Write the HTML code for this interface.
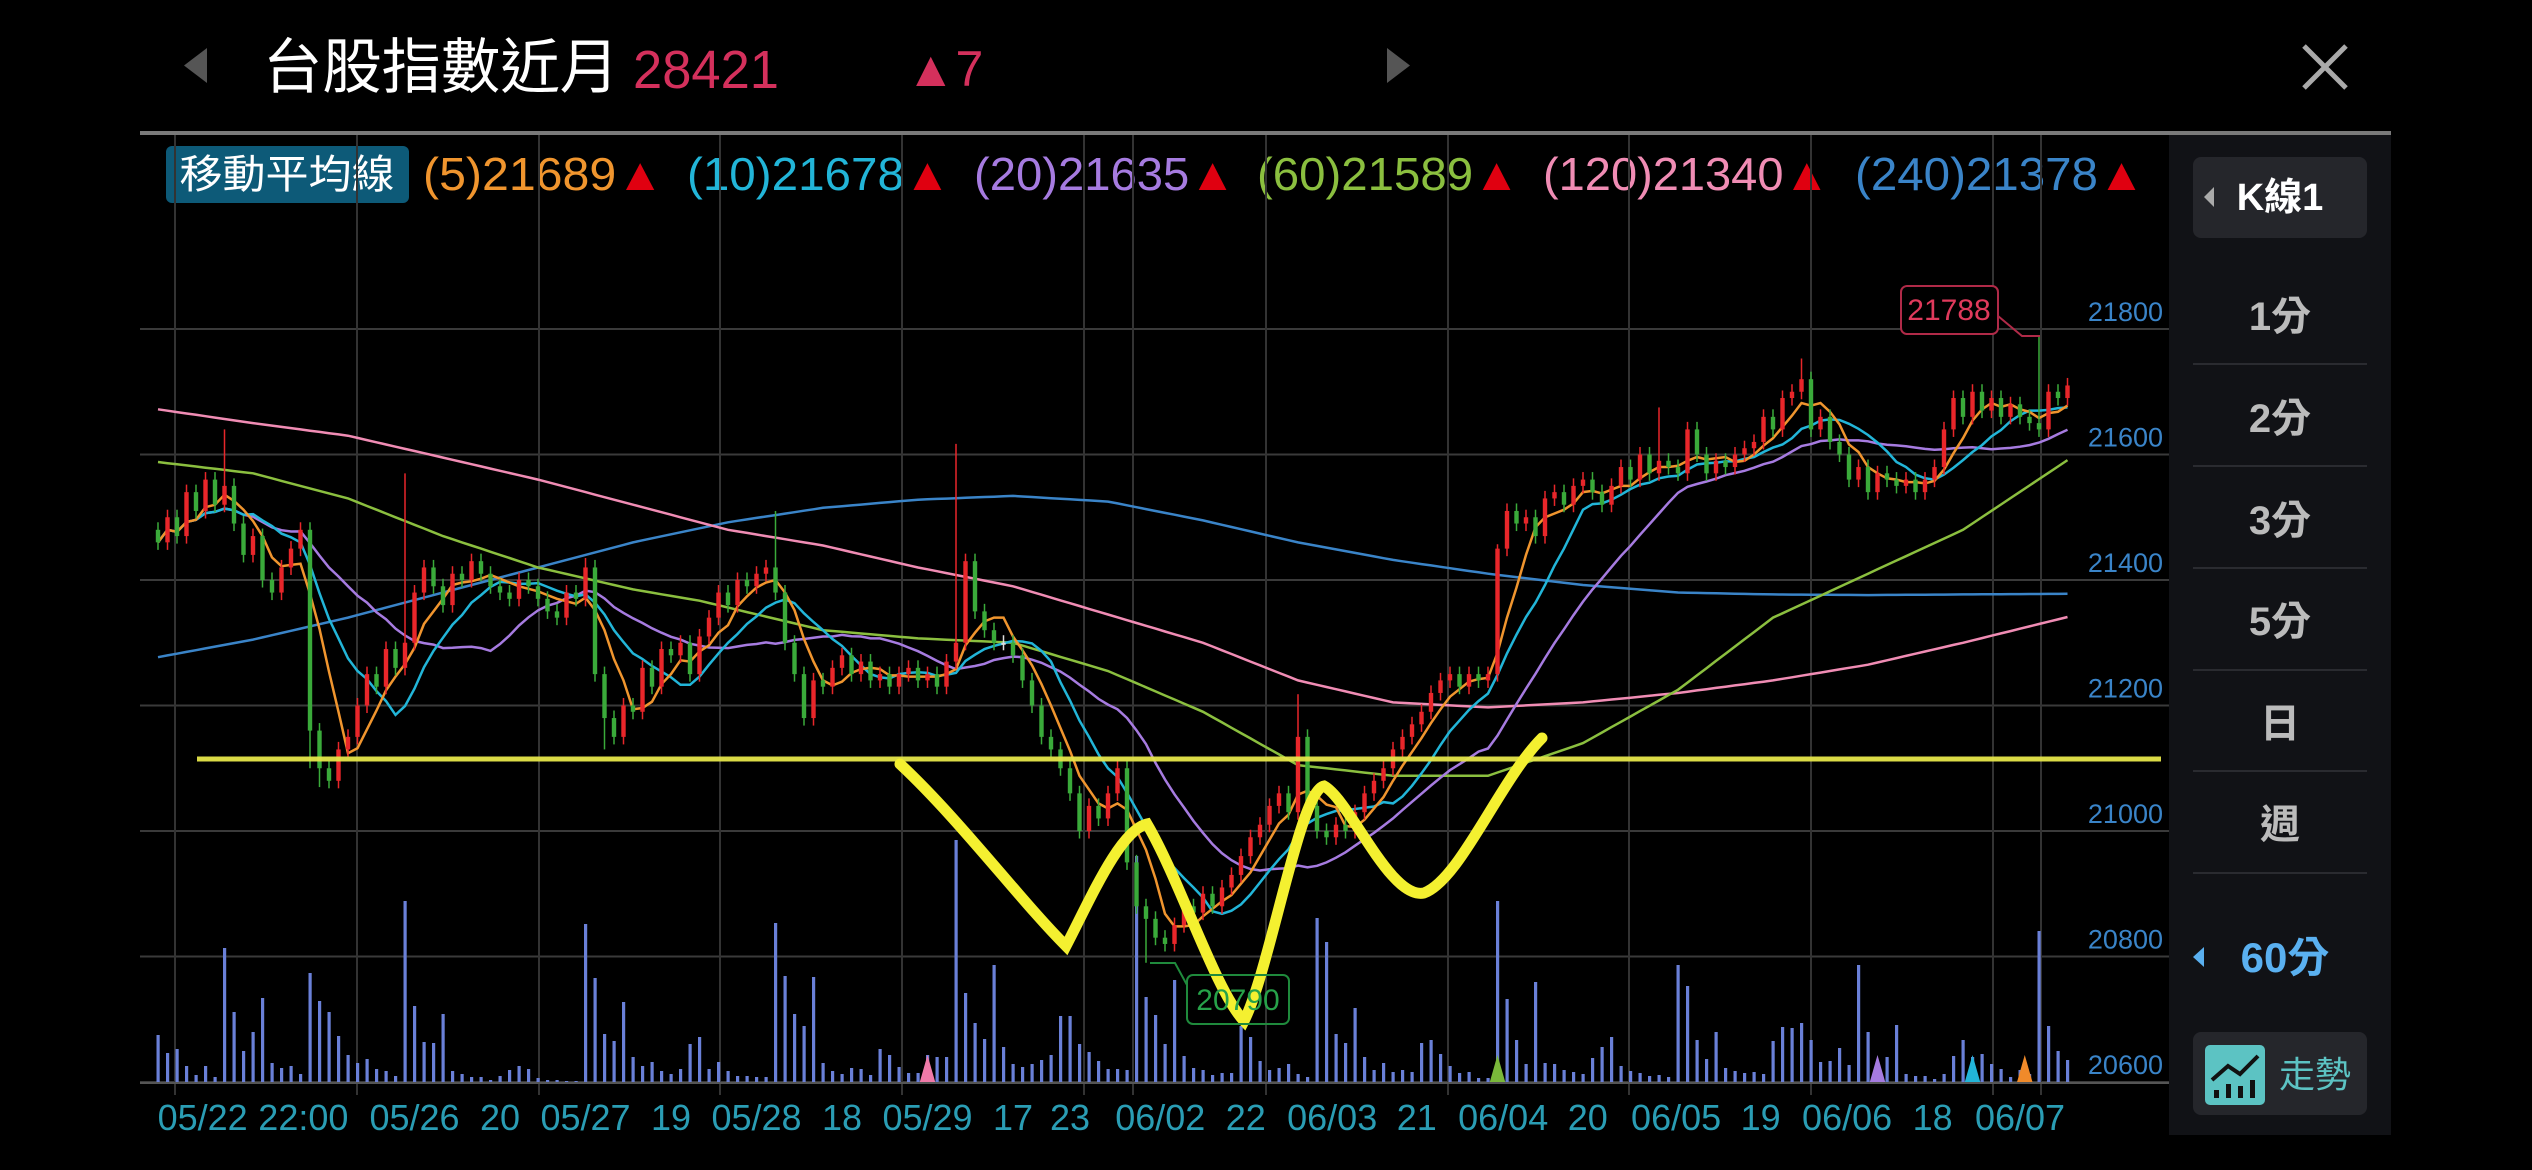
<!DOCTYPE html>
<html><head><meta charset="utf-8">
<style>
html,body{margin:0;padding:0;background:#000;width:2532px;height:1170px;overflow:hidden}
svg{display:block}
text{font-family:"Liberation Sans","Noto Sans CJK TC",sans-serif}
</style></head>
<body>
<svg id="chart" width="2532" height="1170" viewBox="0 0 2532 1170" xmlns="http://www.w3.org/2000/svg">
  <rect x="0" y="0" width="2532" height="1170" fill="#000"/>
  <!-- header -->
  <polygon points="207,48 207,83 184,65.5" fill="#555"/>
  <text x="263" y="88" font-size="60" fill="#fff" textLength="356" lengthAdjust="spacingAndGlyphs">台股指數近月</text>
  <text x="633" y="88" font-size="54" fill="#d4305c" textLength="146" lengthAdjust="spacingAndGlyphs">28421</text>
  <text x="906" y="86" font-size="50" fill="#d4305c">▲7</text>
  <polygon points="1387,48 1387,83 1410,65.5" fill="#555"/>
  <g stroke="#aaa" stroke-width="5">
    <line x1="2304" y1="46" x2="2346" y2="88"/><line x1="2346" y1="46" x2="2304" y2="88"/>
  </g>
  <rect x="140" y="131" width="2251" height="4" fill="#7a7a7a"/>

  <!-- legend -->
  <rect x="166" y="146" width="243" height="57" rx="6" fill="#0d5a78"/>
  <text x="287" y="188" font-size="40" fill="#fff" text-anchor="middle" textLength="215" lengthAdjust="spacingAndGlyphs">移動平均線</text>
  <text x="423" y="190" font-size="46" fill="#f0952e" textLength="241" lengthAdjust="spacingAndGlyphs">(5)21689<tspan fill="#e00010">▲</tspan></text>
  <text x="687" y="190" font-size="46" fill="#22b5d8" textLength="264" lengthAdjust="spacingAndGlyphs">(10)21678<tspan fill="#e00010">▲</tspan></text>
  <text x="974" y="190" font-size="46" fill="#a67be0" textLength="262" lengthAdjust="spacingAndGlyphs">(20)21635<tspan fill="#e00010">▲</tspan></text>
  <text x="1257" y="190" font-size="46" fill="#8bbf3f" textLength="263" lengthAdjust="spacingAndGlyphs">(60)21589<tspan fill="#e00010">▲</tspan></text>
  <text x="1543" y="190" font-size="46" fill="#f08cb4" textLength="287" lengthAdjust="spacingAndGlyphs">(120)21340<tspan fill="#e00010">▲</tspan></text>
  <text x="1855" y="190" font-size="46" fill="#3a84c8" textLength="290" lengthAdjust="spacingAndGlyphs">(240)21378<tspan fill="#e00010">▲</tspan></text>

  <g id="grid"></g>
  <g id="yaxis"></g>
  <g id="xaxis"></g>
  <g id="vols"></g>
  <g id="mas"></g>
  <g id="candles"></g>
  <g id="markers"></g>

  <!-- yellow support line -->
  <line x1="197" y1="759" x2="2161" y2="759" stroke="#e6e64a" stroke-width="5" opacity="0.95"/>
  <!-- hand drawn W -->
  <path d="M900,764 C960,820 1020,900 1066,946 C1090,900 1120,830 1147,824 C1180,880 1215,990 1244,1021 C1270,970 1300,790 1324,786 C1350,800 1390,900 1424,893 C1460,880 1500,780 1542,738" fill="none" stroke="#f4f030" stroke-width="11" stroke-linecap="round"/>

  <!-- price tags -->
  <g>
    <rect x="1901" y="286" width="97" height="48" rx="6" fill="#000" stroke="#b02a48" stroke-width="2"/>
    <polyline points="1998,316 2022,336 2040,336" fill="none" stroke="#b02a48" stroke-width="2"/>
    <text x="1949" y="320" font-size="30" fill="#e03a5c" text-anchor="middle">21788</text>
  </g>
  <g>
    <polyline points="1150,963 1175,963 1187,985" fill="none" stroke="#1f8a3c" stroke-width="2"/>
    <rect x="1187" y="975" width="102" height="49" rx="6" fill="none" stroke="#1f8a3c" stroke-width="2"/>
    <text x="1238" y="1010" font-size="30" fill="#27a24a" text-anchor="middle">20790</text>
  </g>

  <!-- right panel -->
  <g>
    <rect x="2169" y="135" width="222" height="1000" fill="#111216"/>
    <rect x="2193" y="157" width="174" height="81" rx="8" fill="#25262b"/>
    <polygon points="2214,187 2214,207 2204,197" fill="#aaa"/>
    <text x="2280" y="210" font-size="38" font-weight="bold" fill="#fff" text-anchor="middle">K線1</text>
    <g font-size="40" fill="#bbb" text-anchor="middle" font-weight="bold">
      <text x="2280" y="330">1分</text>
      <text x="2280" y="432">2分</text>
      <text x="2280" y="534">3分</text>
      <text x="2280" y="635">5分</text>
      <text x="2280" y="737">日</text>
      <text x="2280" y="838">週</text>
    </g>
    <g stroke="#2a2b30" stroke-width="2">
      <line x1="2193" y1="364" x2="2367" y2="364"/><line x1="2193" y1="466" x2="2367" y2="466"/>
      <line x1="2193" y1="568" x2="2367" y2="568"/><line x1="2193" y1="670" x2="2367" y2="670"/>
      <line x1="2193" y1="771" x2="2367" y2="771"/><line x1="2193" y1="873" x2="2367" y2="873"/>
    </g>
    <polygon points="2204,947 2204,967 2193,957" fill="#5ab0f0"/>
    <text x="2285" y="972" font-size="42" font-weight="bold" fill="#5ab0f0" text-anchor="middle">60分</text>
    <rect x="2193" y="1032" width="174" height="83" rx="8" fill="#25262b"/>
    <rect x="2205" y="1045" width="60" height="60" rx="5" fill="#5cc3c3"/>
    <polyline points="2212,1080 2228,1066 2240,1074 2258,1056" fill="none" stroke="#111" stroke-width="4"/>
    <g fill="#111"><rect x="2214" y="1090" width="5" height="8"/><rect x="2226" y="1084" width="5" height="14"/><rect x="2238" y="1086" width="5" height="12"/><rect x="2250" y="1080" width="5" height="18"/></g>
    <text x="2315" y="1087" font-size="36" fill="#5cc3c3" text-anchor="middle">走勢</text>
  </g>
</svg>
<script>
const closes=[21460,21500,21470,21540,21510,21560,21520,21550,
21490,21440,21470,21400,21380,21420,21450,21480,
21160,21100,21080,21130,21150,
21200,21250,21230,21290,21260,21300,
21380,21420,
21390,21360,21410,21400,21430,21410,21390,21380,21370,21400,21390,21370,
21350,21340,21380,21370,21420,
21250,21180,21150,21200,21190,
21260,21230,21290,21280,21300,21250,
21310,21340,21380,21360,21400,21390,21410,21420,
21380,
21300,21250,21180,21240,21230,21260,21280,
21250,21270,21240,21250,21230,21250,21260,21240,
21250,21230,21270,21300,
21430,21350,21320,21300,21300,21280,
21240,21200,21150,21130,21100,21060,
21000,21040,21020,21060,21100,
20950,20880,20860,20830,20820,20850,
20880,20870,20900,20880,20910,20930,20960,
20990,21010,21040,21060,21030,21150,
21040,21000,20990,21010,21000,21030,21060,
21080,21100,21130,21150,21170,21190,21220,
21240,21250,21230,21250,21240,21250,
21450,21510,21490,21500,21470,21530,
21540,21520,21550,21560,21540,21520,21550,
21580,21560,21600,21570,21590,21580,21570,21640,
21600,21570,21590,21580,21600,21610,21620,
21660,21640,21690,21700,
21720,21640,21660,21620,
21600,21560,21580,21540,21570,21560,21550,
21560,21540,21560,21580,
21640,21690,21660,21700,21670,21690,21660,
21680,21660,21650,21640,21700,21690,21710];
const spikeHighIdx=[7,26,45,65,84,120,141,158,173,198];
const spikeHighVal=[21640,21570,21435,21510,21617,21218,21457,21675,21753,21788];
const spikeLowIdx=[16,17,47,104];
const spikeLowVal=[21100,21070,21130,20790];
const volumes=[48,30,34,17,8,17,6,135,71,32,51,85,20,15,17,9,110,82,71,47,28,20,24,14,12,7,182,77,41,40,69,12,9,6,6,3,7,13,17,14,5,3,3,2,2,159,105,49,42,81,26,17,21,12,9,14,39,46,14,21,12,7,7,6,6,160,107,69,57,106,20,12,9,15,14,8,34,28,16,10,10,28,26,26,243,90,60,44,118,36,19,16,19,23,28,67,67,39,31,22,14,14,13,227,86,68,39,103,27,15,13,8,10,10,57,46,22,13,15,19,9,6,165,141,49,40,75,26,13,20,11,13,11,40,43,29,17,10,11,5,5,182,84,43,19,101,20,19,13,11,9,25,36,46,17,12,10,7,8,6,118,97,43,24,51,15,12,10,11,9,42,56,55,60,43,21,22,35,18,118,51,13,26,58,9,7,7,4,9,27,43,26,29,19,14,6,13,9,152,57,32,23];
const ma60Idx=[0,10,20,30,40,50,57,70,80,90,100,110,120,130,140,150,160,170,180,190,201];
const ma60Val=[21588,21570,21530,21470,21420,21385,21367,21320,21307,21300,21255,21190,21105,21088,21088,21140,21225,21340,21410,21480,21591];
const ma120Idx=[0,10,20,30,40,50,60,70,80,90,100,110,120,130,140,150,160,170,180,190,201];
const ma120Val=[21672,21650,21630,21595,21560,21520,21480,21455,21420,21390,21345,21300,21240,21205,21197,21205,21220,21240,21265,21300,21341];
const ma240Idx=[0,10,20,30,40,50,60,70,80,90,100,110,120,130,140,150,160,170,180,190,201];
const ma240Val=[21277,21305,21340,21380,21420,21460,21492,21515,21528,21534,21525,21495,21460,21432,21410,21392,21380,21377,21376,21377,21378];
const yTicks=[21800,21600,21400,21200,21000,20800,20600];
const dateLabels=["05/22","22:00","05/26","20","05/27","19","05/28","18","05/29","17","23","06/02","22","06/03","21","06/04","20","06/05","19","06/06","18","06/07"];
const dateIdx=[4.7,15.3,27,36,45,54,63,72,81,90,96,105.5,114.5,123.6,132.5,141.6,150.5,159.8,168.7,177.8,186.8,196];
const markerIdx=[81,141,181,191,196.5];
const markerColors=["#f07aa8","#7ab83a","#a67be0","#22b5d8","#f08a2a"];

const NS="http://www.w3.org/2000/svg";
const X0=158,STEP=9.5,Y0=329,PX=0.6275,VBASE=1083;
function xOf(i){return X0+i*STEP;}
function yOf(p){return Y0+(21800-p)*PX;}
function vOf(v){return VBASE-v;}
function mk(tag,attrs,parent){const e=document.createElementNS(NS,tag);for(const k in attrs)e.setAttribute(k,attrs[k]);parent.appendChild(e);return e;}

const grid=document.getElementById('grid');
yTicks.forEach(t=>{
  const l=mk('line',{x1:140,x2:2169,y1:yOf(t),y2:yOf(t),stroke:'#3a3a3a','stroke-width':2},grid);
  
  
});
[175,357,539,720,902,1084,1133,1266,1448,1629,1811,1993,2041].forEach(x=>{
  const l=mk('line',{x1:x,x2:x,y1:135,y2:1095,stroke:'#333','stroke-width':2},grid);
  
  
});
const ya=document.getElementById('yaxis');
yTicks.forEach(t=>{
  const tx=mk('text',{x:2163,y:yOf(t)-8,'font-size':27,fill:'#3a84c8','text-anchor':'end'},ya);
  tx.textContent=t;
  
  
});
const xa=document.getElementById('xaxis');
dateLabels.forEach((d,k)=>{
  const tx=mk('text',{x:xOf(dateIdx[k]),y:1130,'font-size':36,fill:'#2a9db4','text-anchor':'middle'},xa);
  tx.textContent=d;
  
  
});
const vg=document.getElementById('vols');
volumes.forEach((v,i)=>{
  const r=mk('rect',{x:xOf(i)-1.5,y:vOf(v),width:3.2,height:v,fill:'#6a80d8'},vg);
  
  
});
function interp(idx,val){
  const pts=[];
  for(let i=0;i<closes.length;i++){
    let k=0;while(k<idx.length-2&&i>idx[k+1])k++;
    const t=(i-idx[k])/(idx[k+1]-idx[k]);
    pts.push(val[k]+(val[k+1]-val[k])*Math.max(0,Math.min(1,t)));
  }
  return pts;
}
function ma(n){return closes.map((c,i)=>{const s=Math.max(0,i-n+1);let a=0;for(let j=s;j<=i;j++)a+=closes[j];return a/(i-s+1);});}
const mg=document.getElementById('mas');
function line(vals,color,w,name){
  const d=vals.map((v,i)=>(i?'L':'M')+xOf(i).toFixed(1)+','+yOf(v).toFixed(1)).join(' ');
  const p=mk('path',{d:d,fill:'none',stroke:color,'stroke-width':w},mg);
  
  
}
line(interp(ma240Idx,ma240Val),'#3a84c8',2.5,'ma240-line');
line(interp(ma120Idx,ma120Val),'#f08cb4',2.5,'ma120-line');
line(interp(ma60Idx,ma60Val),'#8bbf3f',2.5,'ma60-line');
line(ma(20),'#a67be0',2.5,'ma20-line');
line(ma(10),'#22b5d8',2.5,'ma10-line');
line(ma(5),'#f0952e',2.5,'ma5-line');

const cg=document.getElementById('candles');
closes.forEach((c,i)=>{
  const o=i?closes[i-1]:c+20;
  let hi=Math.max(o,c)+12,lo=Math.min(o,c)-12;
  const hk=spikeHighIdx.indexOf(i);if(hk>=0)hi=spikeHighVal[hk];
  const lk=spikeLowIdx.indexOf(i);if(lk>=0)lo=spikeLowVal[lk];
  const col=c>o?'#e8262a':(c<o?'#3aaa3a':'#ddd');
  const x=xOf(i);
  const w=mk('line',{x1:x,x2:x,y1:yOf(hi),y2:yOf(lo),stroke:col,'stroke-width':1.5},cg);
  
  
  const top=yOf(Math.max(o,c)),bot=yOf(Math.min(o,c));
  const b=mk('rect',{x:x-2.2,y:top,width:4.4,height:Math.max(2,bot-top),fill:col},cg);
  
  
});
const mkg=document.getElementById('markers');
markerIdx.forEach((m,k)=>{
  const x=xOf(m);
  const p=mk('polygon',{points:`${x-8},${VBASE} ${x+8},${VBASE} ${x},${VBASE-28}`,fill:markerColors[k]},mkg);
  
  
});
const base=mk('line',{x1:140,x2:2169,y1:VBASE,y2:VBASE,stroke:'#555','stroke-width':2},mkg);


</script>
</body></html>
